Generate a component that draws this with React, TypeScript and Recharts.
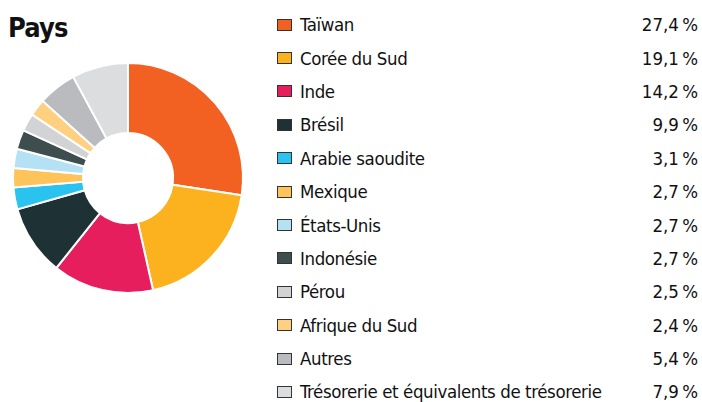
import { PieChart, Pie, Cell, Legend } from "recharts";

const countries = [
  "Taïwan",
  "Corée du Sud",
  "Inde",
  "Brésil",
  "Arabie saoudite",
  "Mexique",
  "États-Unis",
  "Indonésie",
  "Pérou",
  "Afrique du Sud",
  "Autres",
  "Trésorerie et équivalents de trésorerie",
];

const weights = [27.4, 19.1, 14.2, 9.9, 3.1, 2.7, 2.7, 2.7, 2.5, 2.4, 5.4, 7.9];

const colors = [
  "#F26122",
  "#FBB21E",
  "#E61E5E",
  "#1E3235",
  "#2AC3EF",
  "#FEC45A",
  "#B5E1F5",
  "#3E4E4E",
  "#D2D3D5",
  "#FED080",
  "#BABBBF",
  "#DCDDDF",
];

const data = countries.map((name, i) => ({ name, value: weights[i] }));

const FONT = "'Liberation Sans Narrow', 'DejaVu Sans Condensed', sans-serif";

const fmt = (v: number) => v.toFixed(1).replace(".", ",") + "\u202f%";

function LegendList() {
  return (
    <div style={{ fontFamily: FONT, fontSize: 18.5, letterSpacing: -0.4, color: "#111" }}>
      {data.map((d, i) => (
        <div
          key={d.name}
          style={{ display: "flex", alignItems: "center", height: 33.4 }}
        >
          <span
            style={{
              width: 13,
              height: 10,
              background: colors[i],
              border: "1px solid #333",
              marginLeft: 7,
              marginRight: 8,
              flexShrink: 0,
            }}
          />
          <span style={{ flex: 1 }}>{d.name}</span>
          <span style={{ marginRight: 4 }}>{fmt(d.value)}</span>
        </div>
      ))}
    </div>
  );
}

export default function App() {
  return (
    <div style={{ position: "absolute", left: 0, top: 0, width: 702, height: 402, background: "#fff" }}>
      <div
        style={{
          position: "absolute",
          left: 8,
          top: 12,
          fontFamily: FONT,
          fontWeight: "bold",
          fontSize: 27,
          letterSpacing: -0.8,
          color: "#111",
        }}
      >
        Pays
      </div>
      <PieChart width={702} height={402} margin={{ top: 0, right: 0, bottom: 0, left: 0 }}>
        <Pie
          data={data}
          dataKey="value"
          nameKey="name"
          cx={128}
          cy={178}
          innerRadius={45}
          outerRadius={115}
          startAngle={90}
          endAngle={-270}
          stroke="#fff"
          strokeWidth={2}
          isAnimationActive={false}
        >
          {data.map((d, i) => (
            <Cell key={d.name} fill={colors[i]} />
          ))}
        </Pie>
        <Legend
          content={() => <LegendList />}
          wrapperStyle={{ left: 270, top: 8, width: 432 }}
        />
      </PieChart>
    </div>
  );
}
